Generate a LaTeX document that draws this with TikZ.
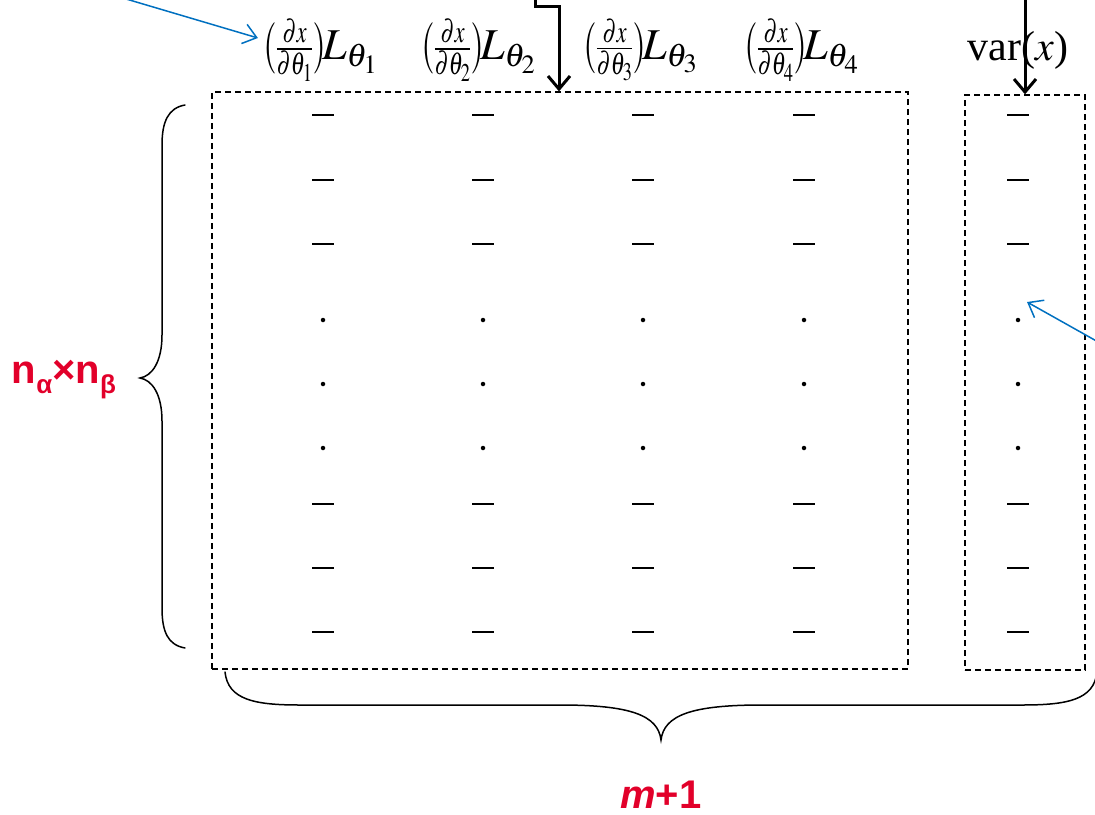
\documentclass[tikz,border=0pt]{standalone}
\usepackage{amsmath}
\usepackage{graphicx}
\usepackage{mathptmx}
\usepackage[no-math]{fontspec}
\setmainfont{Liberation Serif}
\newfontfamily\arialfont{Liberation Sans}
\usetikzlibrary{arrows.meta}
\definecolor{accentred}{RGB}{226,0,42}
\definecolor{pointerblue}{RGB}{0,112,192}
% sensitivity term (dx/dtheta_i) L_theta_i
\newcommand{\sensterm}[1]{\resizebox*{65pt}{62pt}{$\bigl(\tfrac{\partial x}{\partial\theta_{#1}}\bigr)$}$\!L_{\theta_{#1}}$}
\tikzset{
  hdr/.style={inner sep=0pt, font=\fontsize{44}{48}\selectfont},
  varhdr/.style={inner sep=0pt, font=\fontsize{42}{46}\selectfont},
  dashbox/.style={draw, dashed, dash pattern=on 6pt off 4pt, line width=1.3pt, inner sep=0pt},
  bar/.style={fill=black, inner sep=0pt, minimum width=22pt, minimum height=1.8pt, rectangle},
  dot/.style={fill=black, inner sep=0pt, minimum size=4.5pt, circle},
  brace/.style={line width=1.5pt, line cap=round},
  bigarrow/.style={line width=3pt, -{Straight Barb[length=13pt, width=22pt, line width=3pt]}},
  pointer/.style={pointerblue, line width=1.5pt, -{Straight Barb[length=13pt, width=20pt, line width=1.5pt]}},
  redlabel/.style={text=accentred, inner sep=0pt, font=\arialfont\bfseries\fontsize{40}{44}\selectfont}
}
\begin{document}
\begin{tikzpicture}[x=1pt, y=-1pt]
\useasboundingbox (0,0) rectangle (1095,814);

% column headers
\node[hdr] (h1) at (320,50) {\sensterm{1}};
\node[hdr] (h2) at (478,50) {\sensterm{2}};
\node[hdr] (h3) at (640,50) {\sensterm{3}};
\node[hdr] (h4) at (801,50) {\sensterm{4}};
\node[varhdr] (hv) at (1018,50) {var($x$)};

% dashed frames
\node[dashbox, minimum width=696pt, minimum height=577pt] (box1) at (560,380.5) {};
\node[dashbox, minimum width=120pt, minimum height=575pt] (box2) at (1025,382.5) {};

% matrix entries
\foreach \c/\x in {1/323,2/483,3/643,4/804,5/1018}{
  \foreach \r/\y in {1/115,2/180,3/244,7/504,8/568,9/632}{
    \node[bar] (c\r\c) at (\x,\y) {};
  }
  \foreach \r/\y in {4/320,5/384,6/448}{
    \node[dot] (c\r\c) at (\x,\y) {};
  }
}

% left brace
\coordinate (lb1) at (185,105);
\coordinate (lbt) at (140,378);
\coordinate (lb2) at (185,648);
\draw[brace] (lb1) .. controls (168,108) and (162,122) .. (162,145)
  -- (162,335) .. controls (162,362) and (152,376) .. (lbt)
  .. controls (152,380) and (162,394) .. (162,421)
  -- (162,608) .. controls (162,632) and (168,645) .. (lb2);
\node[redlabel, anchor=center] (rows) at (64,380)
  {n\raisebox{-0.25em}{\fontsize{26}{28}\selectfont α}×n\raisebox{-0.25em}{\fontsize{26}{28}\selectfont β}};

% bottom brace
\coordinate (bb1) at (225,672);
\coordinate (bbt) at (661,740);
\coordinate (bb2) at (1097,672);
\draw[brace] (bb1) .. controls (228,700) and (255,705) .. (300,705)
  -- (560,705) .. controls (630,705) and (658,715) .. (bbt)
  .. controls (664,715) and (692,705) .. (762,705)
  -- (1022,705) .. controls (1067,705) and (1094,700) .. (bb2);
\node[text=accentred, inner sep=0pt, font=\arialfont\bfseries\fontsize{40}{44}\selectfont] (cols) at (661,795) {\textit{m}+1};

% black arrows entering from above
\coordinate (s1) at (535,-4);
\coordinate (k1) at (559,6);
\coordinate (s2) at (1025,-4);
\draw[bigarrow] (s1) |- (k1) -- (k1 |- box1.north);
\draw[bigarrow] (s2) -- (s2 |- box2.north);

% blue pointers
\coordinate (p1) at (116,-4);
\draw[pointer] (p1) -- ([xshift=-4pt,yshift=12pt]h1.west);
\coordinate (p2) at (1100,343);
\draw[pointer] (p2) -- ([xshift=9pt,yshift=18pt]c45.center);
\end{tikzpicture}
\end{document}
